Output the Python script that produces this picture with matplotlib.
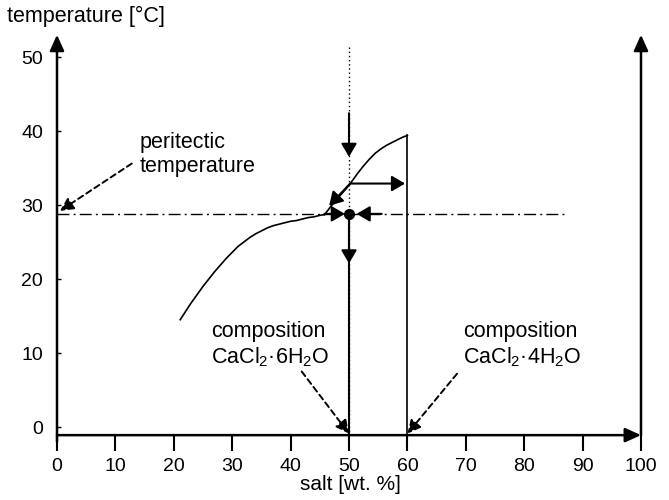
import matplotlib
matplotlib.use('Agg')
import matplotlib.pyplot as plt

plt.rcParams['font.family'] = ['Liberation Sans', 'DejaVu Sans']
plt.rcParams['mathtext.default'] = 'regular'

# liquidus branches, salt [wt. %] vs temperature [°C]
hexa_x = [21.1, 22.0, 23.0, 24.0, 25.0, 26.0, 27.0, 28.0, 29.0, 30.0, 31.0, 32.0, 33.0,
          34.0, 35.0, 36.0, 37.0, 38.0, 39.0, 40.0, 41.0, 42.0, 43.0, 44.0, 45.0, 45.8]
hexa_y = [14.5, 15.6, 16.8, 17.9, 19.0, 20.0, 21.0, 21.9, 22.8, 23.6, 24.4, 25.0, 25.6,
          26.1, 26.5, 26.9, 27.2, 27.4, 27.6, 27.8, 27.9, 28.1, 28.3, 28.4, 28.6, 28.7]
tetra_x = [45.8, 46.5, 47.5, 48.5, 49.5, 50.5, 51.5, 52.5, 53.5, 54.5, 55.5, 56.5,
           57.5, 58.5, 59.3, 60.0]
tetra_y = [28.7, 29.4, 30.4, 31.3, 32.2, 33.2, 34.3, 35.3, 36.2, 37.0, 37.6, 38.1,
           38.5, 38.9, 39.2, 39.4]

t_peri = 28.8      # peritectic temperature
x_hexa = 50        # CaCl2.6H2O
x_tetra = 60       # CaCl2.4H2O
peri_line_end = 87

x_ticks = [0, 10, 20, 30, 40, 50, 60, 70, 80, 90, 100]
y_ticks = [0, 10, 20, 30, 40, 50]

fig = plt.figure(figsize=(6.69, 5), dpi=100)
ax = fig.add_axes([57/669, 73/500, 584/669, 370/500])
ax.set_xlim(0, 100)
ax.set_ylim(0, 50)
for s in ax.spines.values():
    s.set_visible(False)
ax.spines['bottom'].set_position(('data', -1.1))

ax.set_xticks(x_ticks)
ax.set_yticks(y_ticks)
ax.tick_params(axis='x', direction='out', length=11.5, width=1.5, pad=5, labelsize=14)
ax.tick_params(axis='y', direction='in', length=3, width=1, pad=10, labelsize=14)

def arrow(p0, p1, lw=1.5, hl=0.8, hw=0.45, ls='-'):
    ax.annotate('', xy=p1, xytext=p0, annotation_clip=False,
                arrowprops=dict(arrowstyle=f'-|>,head_length={hl},head_width={hw}',
                                color='k', lw=lw, ls=ls, mutation_scale=10,
                                shrinkA=0, shrinkB=0))

# axes with arrow heads
arrow((0, -2), (0, 53), lw=1.8, hl=0.95, hw=0.43)
arrow((0, -1.1), (100, -1.1), lw=1.8, hl=0.95, hw=0.43)
arrow((100, -1.1), (100, 53), lw=1.8, hl=0.95, hw=0.43)

# liquidus curves and composition lines
ax.plot(hexa_x, hexa_y, color='k', lw=1.2, clip_on=False)
ax.plot(tetra_x, tetra_y, color='k', lw=1.2, clip_on=False)
ax.plot([x_tetra, x_tetra], [tetra_y[-1], -1.1], color='k', lw=1.2, clip_on=False)
ax.plot([x_hexa, x_hexa], [51.4, -1.1], color='k', lw=1, ls=(0, (1, 2)), clip_on=False)
ax.plot([x_hexa, x_hexa], [t_peri, -1.1], color='k', lw=1.5, clip_on=False)
ax.plot([0, peri_line_end], [t_peri, t_peri], color='k', lw=1,
        ls=(0, (8.6, 3, 1.4, 3)), clip_on=False)

# state changes on cooling
arrow((x_hexa, 42.4), (x_hexa, 36.5), hl=0.8, hw=0.47)
arrow((50.2, 32.9), (59.6, 32.9), hl=0.8, hw=0.47)
arrow((50.2, 32.9), (46.6, 29.9), hl=0.8, hw=0.47)
arrow((45.8, t_peri), (49.3, t_peri), hl=0.8, hw=0.47)
arrow((55.6, t_peri), (51.3, t_peri), hl=0.8, hw=0.47)
arrow((x_hexa, t_peri), (x_hexa, 22.1), hl=0.8, hw=0.47)
ax.plot([x_hexa], [t_peri], 'o', color='k', ms=7, clip_on=False)

# labels with dashed pointers
ax.text(14.2, 36.8, 'peritectic\ntemperature', fontsize=15.5, va='center', ha='left')
arrow((12.8, 35.6), (0.5, 29.2), lw=1.4, hl=0.8, hw=0.4, ls=(0, (3, 2)))

ax.text(26.4, 11.1, 'composition\nCaCl$_2$·6H$_2$O', fontsize=15.5, va='center', ha='left')
arrow((41.9, 7.5), (50, -0.9), lw=1.4, hl=0.8, hw=0.4, ls=(0, (3, 2)))

ax.text(69.6, 11.1, 'composition\nCaCl$_2$·4H$_2$O', fontsize=15.5, va='center', ha='left')
arrow((68.5, 7.2), (60, -0.9), lw=1.4, hl=0.8, hw=0.4, ls=(0, (3, 2)))

fig.text(7/669, 1 - 16/500, 'temperature [°C]', fontsize=15.5, va='center', ha='left')
fig.text(350/669, 15/500, 'salt [wt. %]', fontsize=15, va='center', ha='center')

fig.savefig('out.png', dpi=100)
